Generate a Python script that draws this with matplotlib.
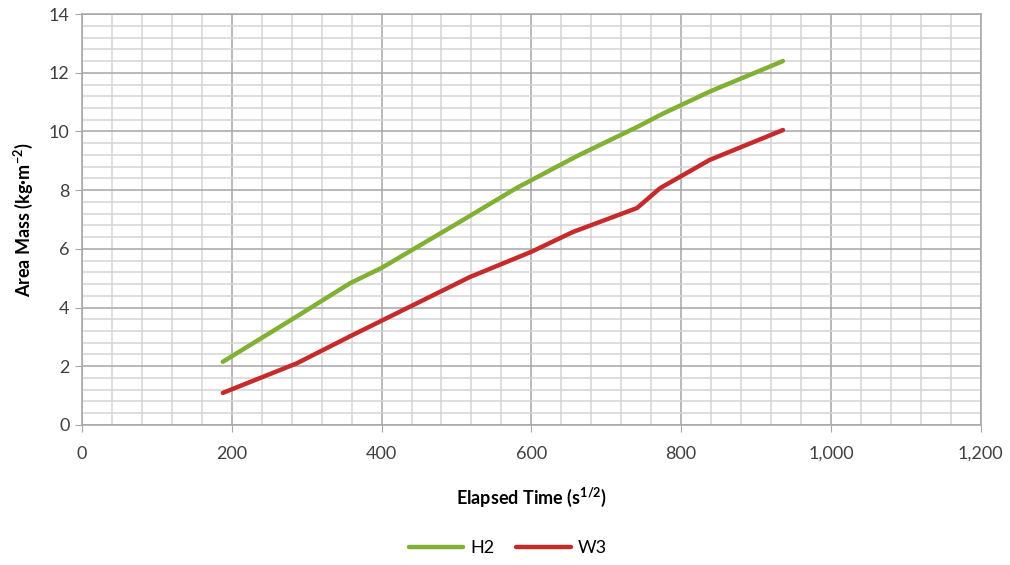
import matplotlib
matplotlib.use("Agg")
import matplotlib.pyplot as plt
from matplotlib.ticker import MultipleLocator, FuncFormatter

plt.rcParams["font.family"] = ["Lato", "DejaVu Sans"]
plt.rcParams["mathtext.fontset"] = "custom"
plt.rcParams["mathtext.rm"] = "Lato"
plt.rcParams["mathtext.bf"] = "Lato:bold"
plt.rcParams["mathtext.default"] = "bf"

# Daten
h2_zeit = [188, 287, 358, 400, 500, 580, 660, 741, 775, 840, 936]
h2_masse = [2.15, 3.7, 4.83, 5.35, 6.85, 8.07, 9.15, 10.15, 10.6, 11.38, 12.4]

w3_zeit = [188, 287, 358, 400, 518, 600, 656, 741, 772, 838, 936]
w3_masse = [1.09, 2.1, 3.02, 3.55, 5.04, 5.9, 6.58, 7.39, 8.07, 9.03, 10.05]

fig = plt.figure(figsize=(10.1, 5.65), dpi=100)
ax = fig.add_axes([0.0812, 0.248, 0.8898, 0.727])

ax.plot(h2_zeit, h2_masse, color="#80B034", linewidth=3.2,
        solid_capstyle="round", label="H2")
ax.plot(w3_zeit, w3_masse, color="#C62B2C", linewidth=3.2,
        solid_capstyle="round", label="W3")

ax.set_xlim(0, 1200)
ax.set_ylim(0, 14)
ax.xaxis.set_major_locator(MultipleLocator(200))
ax.xaxis.set_minor_locator(MultipleLocator(40))
ax.yaxis.set_major_locator(MultipleLocator(2))
ax.yaxis.set_minor_locator(MultipleLocator(0.4))
ax.xaxis.set_major_formatter(FuncFormatter(lambda v, _: f"{int(v):,}"))

ax.grid(which="major", color="#A6A6A6", linewidth=1.1)
ax.grid(which="minor", color="#D4D4D4", linewidth=1.1)
ax.set_axisbelow(True)
for s in ax.spines.values():
    s.set_color("#A6A6A6")
    s.set_linewidth(1.1)

ax.tick_params(which="major", length=5, color="#A6A6A6",
               labelsize=13, labelcolor="#404040", pad=4)
ax.tick_params(axis="x", which="major", pad=10)
ax.tick_params(which="minor", length=0)

ax.set_xlabel("Elapsed Time (s$^{1/2}$)", fontsize=13, fontweight="bold",
              labelpad=17)
ax.set_ylabel("Area Mass (kg\u00b7m$^{-2}$)", fontsize=13, fontweight="bold",
              labelpad=10)

fig.legend(loc="center", bbox_to_anchor=(0.503, 0.03), ncol=2,
           frameon=False, fontsize=13, handlelength=3.0,
           columnspacing=1.2, handletextpad=0.4)

fig.savefig("out.png", dpi=100)
plt.close(fig)
